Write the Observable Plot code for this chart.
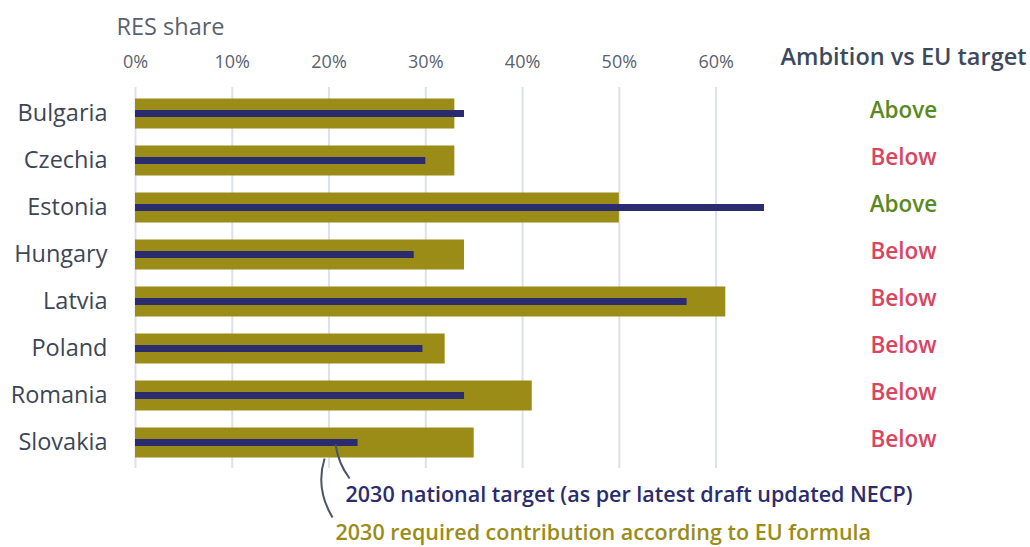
<!DOCTYPE html>
<html>
<head>
<meta charset="utf-8">
<script src="https://cdn.jsdelivr.net/npm/d3@7"></script>
<script src="https://cdn.jsdelivr.net/npm/@observablehq/plot@0.6"></script>
<style>
  html, body { margin: 0; padding: 0; background: #fff; }
  #chart svg { display: block; font-family: "Open Sans", sans-serif; }
</style>
</head>
<body>
<div id="chart"></div>
<script>
const countries = ["Bulgaria", "Czechia", "Estonia", "Hungary", "Latvia", "Poland", "Romania", "Slovakia"];
const requiredContribution = [0.33, 0.33, 0.50, 0.34, 0.61, 0.32, 0.41, 0.35];
const nationalTarget = [0.34, 0.30, 0.65, 0.288, 0.57, 0.297, 0.34, 0.23];
const ambition = ["Above", "Below", "Above", "Below", "Below", "Below", "Below", "Below"];
const xTicks = [0, 0.1, 0.2, 0.3, 0.4, 0.5, 0.6];

const rows = countries.map((c, i) => ({
  country: c,
  required: requiredContribution[i],
  national: nationalTarget[i],
  ambition: ambition[i]
}));

const OLIVE = "#9a8c16";
const NAVY = "#2b2c6f";
const GREEN = "#5a8a1e";
const RED = "#d9455f";
const SLATE = "#3d4a5e";

const plot = Plot.plot({
  width: 1030,
  height: 547,
  marginLeft: 135,
  marginRight: 266,
  marginTop: 87,
  marginBottom: 79,
  style: {fontFamily: "Open Sans, sans-serif", background: "#fff"},
  x: {domain: [0, 0.65]},
  y: {domain: countries, padding: 0},
  marks: [
    Plot.gridX(xTicks, {stroke: "#dde1ea", strokeOpacity: 1, strokeWidth: 2}),
    Plot.barX(rows, {x: "required", y: "country", fill: OLIVE, insetTop: 8.5, insetBottom: 8.5}),
    Plot.barX(rows, {x: "national", y: "country", fill: NAVY, insetTop: 20, insetBottom: 20}),
    Plot.axisX({anchor: "top", ticks: xTicks, tickFormat: d3.format(".0%"), tickSize: 0, tickPadding: 20, fontSize: 18, color: "#5a6270", label: null}),
    Plot.axisY({tickSize: 0, tickPadding: 28, fontSize: 23.5, color: "#3d4656", label: null, dy: -1}),
    Plot.text(rows, {y: "country", text: "ambition", frameAnchor: "right", dx: 139, dy: -3, textAnchor: "middle",
      fill: d => d.ambition === "Above" ? GREEN : RED, fontSize: 22.5, fontWeight: 600}),
    Plot.text(["Ambition vs EU target"], {frameAnchor: "top-right", dx: 262, dy: -30, textAnchor: "end", lineAnchor: "middle",
      fill: SLATE, fontSize: 23.5, fontWeight: 600}),
    Plot.text(["RES share"], {frameAnchor: "top-left", dx: -19, dy: -60, textAnchor: "start", lineAnchor: "middle",
      fill: "#5a6270", fontSize: 23.5}),
    Plot.text(["2030 national target (as per latest draft updated NECP)"], {frameAnchor: "bottom-left", dx: 210, dy: 27,
      textAnchor: "start", lineAnchor: "middle", fill: NAVY, fontSize: 21.5, fontWeight: 600}),
    Plot.text(["2030 required contribution according to EU formula"], {frameAnchor: "bottom-left", dx: 200, dy: 65,
      textAnchor: "start", lineAnchor: "middle", fill: OLIVE, fontSize: 21.5, fontWeight: 600})
  ]
});

document.getElementById("chart").appendChild(plot);

// connector lines from the Slovakia bars to the annotations, positioned with the plot's scales
const xs = plot.scale("x");
const ys = plot.scale("y");
const last = rows[rows.length - 1];
const yTop = ys.apply(last.country);
const bw = ys.bandwidth;
const svg = d3.select(plot);
const nx = xs.apply(last.national) - 22;
const ny = yTop + bw / 2;
svg.append("path")
  .attr("d", `M${nx},${ny + 2} C${nx + 2},${ny + 16} ${nx + 8},${ny + 28} ${nx + 14},${ny + 36}`)
  .attr("fill", "none").attr("stroke", "#4a5568").attr("stroke-width", 2);
const rx = nx - 11;
const ry = yTop + bw - 8.5;
svg.append("path")
  .attr("d", `M${rx},${ry + 1} C${rx - 6},${ry + 20} ${rx - 4},${ry + 40} ${rx + 8},${ry + 60}`)
  .attr("fill", "none").attr("stroke", "#4a5568").attr("stroke-width", 2);
</script>
</body>
</html>
